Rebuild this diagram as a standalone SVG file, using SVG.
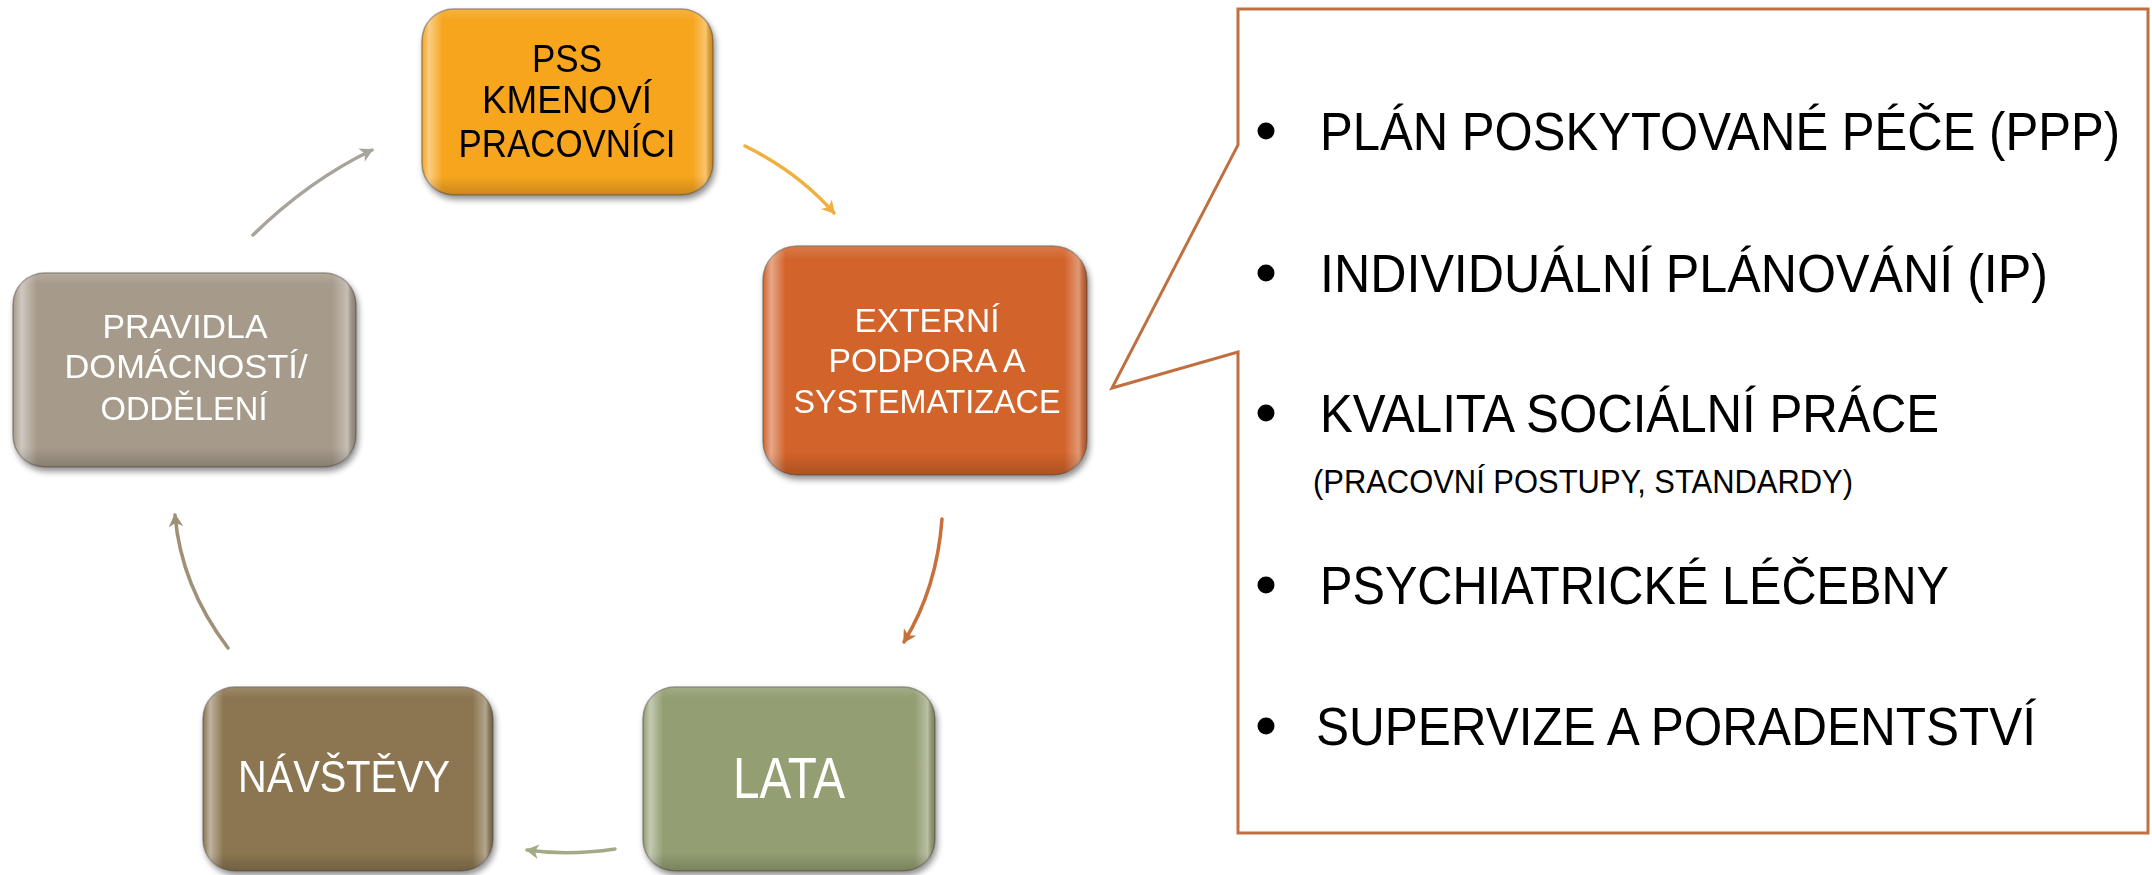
<svg xmlns="http://www.w3.org/2000/svg" width="2152" height="875" viewBox="0 0 2152 875">
<defs>
<style>
.box{stroke:#5a5048;stroke-opacity:0.55;stroke-width:1.5}
.gloss{fill:url(#glossH);stroke:none}
.shade{fill:url(#glossV);stroke:none}
.t{font-family:"Liberation Sans",Arial,sans-serif;text-anchor:middle}
.tb{fill:#000}
.tw{fill:#fff}
.list{font-family:"Liberation Sans",Arial,sans-serif;fill:#000}
.conn{fill:none;stroke-width:3.5;stroke-linecap:round}
</style>
<linearGradient id="glossH" x1="0" y1="0" x2="1" y2="0">
<stop offset="0" stop-color="#fff" stop-opacity="0"/>
<stop offset="0.025" stop-color="#fff" stop-opacity="0.45"/>
<stop offset="0.07" stop-color="#fff" stop-opacity="0"/>
<stop offset="0.93" stop-color="#fff" stop-opacity="0"/>
<stop offset="0.975" stop-color="#fff" stop-opacity="0.35"/>
<stop offset="1" stop-color="#000" stop-opacity="0.15"/>
</linearGradient>
<linearGradient id="glossV" x1="0" y1="0" x2="0" y2="1">
<stop offset="0" stop-color="#fff" stop-opacity="0.15"/>
<stop offset="0.06" stop-color="#fff" stop-opacity="0"/>
<stop offset="0.9" stop-color="#000" stop-opacity="0"/>
<stop offset="1" stop-color="#000" stop-opacity="0.18"/>
</linearGradient>
<filter id="sh" x="-10%" y="-10%" width="125%" height="125%">
<feGaussianBlur in="SourceAlpha" stdDeviation="3"/>
<feOffset dx="2" dy="4" result="b"/>
<feComponentTransfer><feFuncA type="linear" slope="0.45"/></feComponentTransfer>
<feMerge><feMergeNode/><feMergeNode in="SourceGraphic"/></feMerge>
</filter>
<marker id="a1" viewBox="0 0 12 12" refX="9" refY="6" markerWidth="5" markerHeight="5" orient="auto" markerUnits="strokeWidth"><path d="M1,1 L10,6 L1,11 L3.5,6 Z" fill="#F0B040"/></marker>
<marker id="a2" viewBox="0 0 12 12" refX="9" refY="6" markerWidth="5" markerHeight="5" orient="auto" markerUnits="strokeWidth"><path d="M1,1 L10,6 L1,11 L3.5,6 Z" fill="#C8703C"/></marker>
<marker id="a3" viewBox="0 0 12 12" refX="9" refY="6" markerWidth="5" markerHeight="5" orient="auto" markerUnits="strokeWidth"><path d="M1,1 L10,6 L1,11 L3.5,6 Z" fill="#A2AA88"/></marker>
<marker id="a4" viewBox="0 0 12 12" refX="9" refY="6" markerWidth="5" markerHeight="5" orient="auto" markerUnits="strokeWidth"><path d="M1,1 L10,6 L1,11 L3.5,6 Z" fill="#A09078"/></marker>
<marker id="a5" viewBox="0 0 12 12" refX="9" refY="6" markerWidth="5" markerHeight="5" orient="auto" markerUnits="strokeWidth"><path d="M1,1 L10,6 L1,11 L3.5,6 Z" fill="#A8A49C"/></marker>
</defs>
<rect width="2152" height="875" fill="#fff"/>

<g id="connectors">
<path class="conn" d="M745,146 Q798,172 834,213" stroke="#F0B040" marker-end="url(#a1)"/>
<path class="conn" d="M942,519 Q937,588 904,642" stroke="#C8703C" marker-end="url(#a2)"/>
<path class="conn" d="M615,849 Q568,856 527,850" stroke="#A2AA88" marker-end="url(#a3)"/>
<path class="conn" d="M228,648 Q181,586 175,515" stroke="#A09078" marker-end="url(#a4)"/>
<path class="conn" d="M253,235 Q308,181 372,150" stroke="#A8A49C" marker-end="url(#a5)"/>
</g>

<g id="node-pss" filter="url(#sh)">
<rect class="box" x="422" y="9" width="291" height="186" rx="32" fill="#F6A51F"/>
<rect class="gloss" x="422" y="9" width="291" height="186" rx="32"/>
<rect class="shade" x="422" y="9" width="291" height="186" rx="32"/>
<text class="t tb" font-size="38" x="567" y="72" textLength="70" lengthAdjust="spacingAndGlyphs">PSS</text>
<text class="t tb" font-size="38" x="567" y="113" textLength="170" lengthAdjust="spacingAndGlyphs">KMENOVÍ</text>
<text class="t tb" font-size="38" x="567" y="157" textLength="217" lengthAdjust="spacingAndGlyphs">PRACOVNÍCI</text>
</g>

<g id="node-externi" filter="url(#sh)">
<rect class="box" x="763" y="246" width="324" height="229" rx="34" fill="#D2632A"/>
<rect class="gloss" x="763" y="246" width="324" height="229" rx="34"/>
<rect class="shade" x="763" y="246" width="324" height="229" rx="34"/>
<text class="t tw" font-size="33" x="927" y="332" textLength="145" lengthAdjust="spacingAndGlyphs">EXTERNÍ</text>
<text class="t tw" font-size="33" x="927" y="372" textLength="197" lengthAdjust="spacingAndGlyphs">PODPORA A</text>
<text class="t tw" font-size="33" x="927" y="413" textLength="267" lengthAdjust="spacingAndGlyphs">SYSTEMATIZACE</text>
</g>

<g id="node-lata" filter="url(#sh)">
<rect class="box" x="643" y="687" width="292" height="184" rx="32" fill="#939E72"/>
<rect class="gloss" x="643" y="687" width="292" height="184" rx="32"/>
<rect class="shade" x="643" y="687" width="292" height="184" rx="32"/>
<text class="t tw" font-size="57" x="789" y="798" textLength="112" lengthAdjust="spacingAndGlyphs">LATA</text>
</g>

<g id="node-navstevy" filter="url(#sh)">
<rect class="box" x="203" y="687" width="290" height="184" rx="32" fill="#8B7651"/>
<rect class="gloss" x="203" y="687" width="290" height="184" rx="32"/>
<rect class="shade" x="203" y="687" width="290" height="184" rx="32"/>
<text class="t tw" font-size="45" x="344" y="792" textLength="212" lengthAdjust="spacingAndGlyphs">NÁVŠTĚVY</text>
</g>

<g id="node-pravidla" filter="url(#sh)">
<rect class="box" x="13" y="273" width="343" height="194" rx="32" fill="#A69B8B"/>
<rect class="gloss" x="13" y="273" width="343" height="194" rx="32"/>
<rect class="shade" x="13" y="273" width="343" height="194" rx="32"/>
<text class="t tw" font-size="33" x="185" y="338" textLength="165" lengthAdjust="spacingAndGlyphs">PRAVIDLA</text>
<text class="t tw" font-size="33" x="186" y="378" textLength="243" lengthAdjust="spacingAndGlyphs">DOMÁCNOSTÍ/</text>
<text class="t tw" font-size="33" x="184" y="420" textLength="167" lengthAdjust="spacingAndGlyphs">ODDĚLENÍ</text>
</g>

<g id="node-callout">
<path d="M1238,9 H2148 V833 H1238 V352 L1112,388 L1238,145 Z" fill="#fff" stroke="#C07040" stroke-width="3" stroke-linejoin="miter"/>
<circle cx="1266" cy="131" r="8.5" fill="#000"/>
<text class="list" font-size="53" x="1320" y="150" textLength="800" lengthAdjust="spacingAndGlyphs">PLÁN POSKYTOVANÉ PÉČE (PPP)</text>
<circle cx="1266" cy="273" r="8.5" fill="#000"/>
<text class="list" font-size="53" x="1320" y="292" textLength="728" lengthAdjust="spacingAndGlyphs">INDIVIDUÁLNÍ PLÁNOVÁNÍ (IP)</text>
<circle cx="1266" cy="413" r="8.5" fill="#000"/>
<text class="list" font-size="53" x="1320" y="432" textLength="619" lengthAdjust="spacingAndGlyphs">KVALITA SOCIÁLNÍ PRÁCE</text>
<text class="list" font-size="33" x="1313" y="493" textLength="540" lengthAdjust="spacingAndGlyphs">(PRACOVNÍ POSTUPY, STANDARDY)</text>
<circle cx="1266" cy="585" r="8.5" fill="#000"/>
<text class="list" font-size="53" x="1320" y="604" textLength="629" lengthAdjust="spacingAndGlyphs">PSYCHIATRICKÉ LÉČEBNY</text>
<circle cx="1266" cy="726" r="8.5" fill="#000"/>
<text class="list" font-size="53" x="1316" y="745" textLength="720" lengthAdjust="spacingAndGlyphs">SUPERVIZE A PORADENTSTVÍ</text>
</g>
</svg>
